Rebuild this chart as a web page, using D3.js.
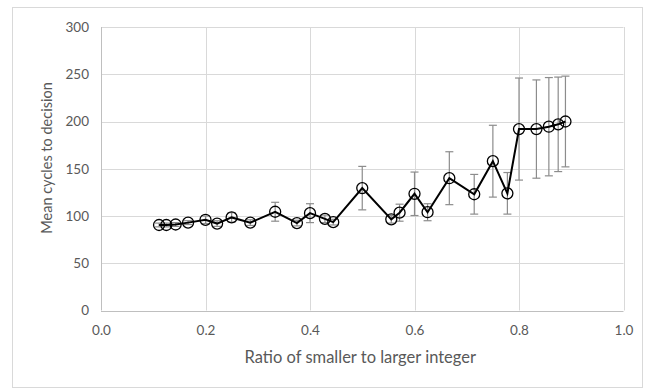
<!DOCTYPE html>
<html>
<head>
<meta charset="utf-8">
<script src="https://cdn.jsdelivr.net/npm/d3@7"></script>
<style>
  body { margin: 0; background: #fff; }
  text { font-family: Lato, "Open Sans", sans-serif; fill: #595959; }
</style>
</head>
<body>
<div id="chart"></div>
<script>
// ratio of smaller to larger integer (pairs up to 9)
var ratios = [1/9, 1/8, 1/7, 1/6, 1/5, 2/9, 1/4, 2/7, 1/3, 3/8, 2/5, 3/7, 4/9, 1/2,
              5/9, 4/7, 3/5, 5/8, 2/3, 5/7, 3/4, 7/9, 4/5, 5/6, 6/7, 7/8, 8/9];
var meanCycles = [90.5, 90.5, 91, 93, 96, 92, 98.5, 93, 104.5, 92.5, 103, 97, 93.5, 129.5,
                  96.5, 103.5, 123.5, 104, 140, 123, 158, 124, 192, 192, 194.5, 197, 200];
var errors = [2, 2, 2, 2, 4, 3, 5, 3, 10, 3, 10, 4, 3, 23,
              4, 9, 23, 9, 28, 21, 38, 22, 54, 52, 52, 50, 48];
var xTicks = [0, 0.2, 0.4, 0.6, 0.8, 1.0];
var yTicks = [0, 50, 100, 150, 200, 250, 300];

var W = 655, H = 389;
var margin = {top: 27, right: 31, bottom: 79, left: 101},
    width = 623.5 - margin.left,
    height = 310.5 - margin.top;

var data = ratios.map(function(r, i){ return {x: r, y: meanCycles[i], e: errors[i]}; });

var x = d3.scaleLinear().domain([0, 1]).range([0, width]),
    y = d3.scaleLinear().domain([0, 300]).range([height, 0]);

var svg = d3.select("#chart").append("svg")
    .attr("width", W).attr("height", H);

// outer chart border
svg.append("rect")
    .attr("x", 12.5).attr("y", 7.5)
    .attr("width", 630).attr("height", 380)
    .attr("fill", "none").attr("stroke", "#d9d9d9");

var g = svg.append("g")
    .attr("transform", "translate(" + margin.left + "," + margin.top + ")");

// grid
g.selectAll(".hgrid").data(yTicks).enter().append("line")
    .attr("x1", 0).attr("x2", width)
    .attr("y1", function(d){ return Math.round(y(d)) + 0.5; })
    .attr("y2", function(d){ return Math.round(y(d)) + 0.5; })
    .attr("stroke", function(d){ return d === 0 ? "#bfbfbf" : "#d9d9d9"; });
g.selectAll(".vgrid").data(xTicks).enter().append("line")
    .attr("y1", 0).attr("y2", height)
    .attr("x1", function(d){ return Math.round(x(d)) + 0.5; })
    .attr("x2", function(d){ return Math.round(x(d)) + 0.5; })
    .attr("stroke", function(d){ return d === 0 ? "#bfbfbf" : "#d9d9d9"; });

// axes (labels only)
var xAxis = g.append("g")
    .attr("transform", "translate(0," + height + ")")
    .call(d3.axisBottom(x).tickValues(xTicks).tickFormat(d3.format(".1f")).tickSize(0).tickPadding(15));
var yAxis = g.append("g")
    .call(d3.axisLeft(y).tickValues(yTicks).tickSize(0).tickPadding(12));
[xAxis, yAxis].forEach(function(a){
  a.select(".domain").remove();
  a.selectAll("text").attr("font-size", "13.5px").attr("fill", "#595959")
    .style("font-family", "Lato, 'Open Sans', sans-serif");
});

// axis titles
svg.append("text")
    .attr("x", margin.left + width / 2 - 2).attr("y", 363)
    .attr("text-anchor", "middle").attr("font-size", "16.5px")
    .text("Ratio of smaller to larger integer");
svg.append("text")
    .attr("transform", "translate(52,158) rotate(-90)")
    .attr("text-anchor", "middle").attr("font-size", "14.5px")
    .text("Mean cycles to decision");

// error bars
var eb = g.selectAll(".err").data(data).enter().append("g")
    .attr("stroke", "#8c8c8c").attr("stroke-width", 1.2);
eb.append("line")
    .attr("x1", function(d){ return x(d.x); }).attr("x2", function(d){ return x(d.x); })
    .attr("y1", function(d){ return y(d.y + d.e); }).attr("y2", function(d){ return y(d.y - d.e); });
eb.append("line")
    .attr("x1", function(d){ return x(d.x) - 4; }).attr("x2", function(d){ return x(d.x) + 4; })
    .attr("y1", function(d){ return y(d.y + d.e); }).attr("y2", function(d){ return y(d.y + d.e); });
eb.append("line")
    .attr("x1", function(d){ return x(d.x) - 4; }).attr("x2", function(d){ return x(d.x) + 4; })
    .attr("y1", function(d){ return y(d.y - d.e); }).attr("y2", function(d){ return y(d.y - d.e); });

// line
g.append("path")
    .datum(data)
    .attr("fill", "none").attr("stroke", "#000").attr("stroke-width", 2)
    .attr("d", d3.line().x(function(d){ return x(d.x); }).y(function(d){ return y(d.y); }));

// markers
g.selectAll(".pt").data(data).enter().append("circle")
    .attr("cx", function(d){ return x(d.x); })
    .attr("cy", function(d){ return y(d.y); })
    .attr("r", 5.5)
    .attr("fill", "none").attr("stroke", "#000").attr("stroke-width", 1.3);
</script>
</body>
</html>
